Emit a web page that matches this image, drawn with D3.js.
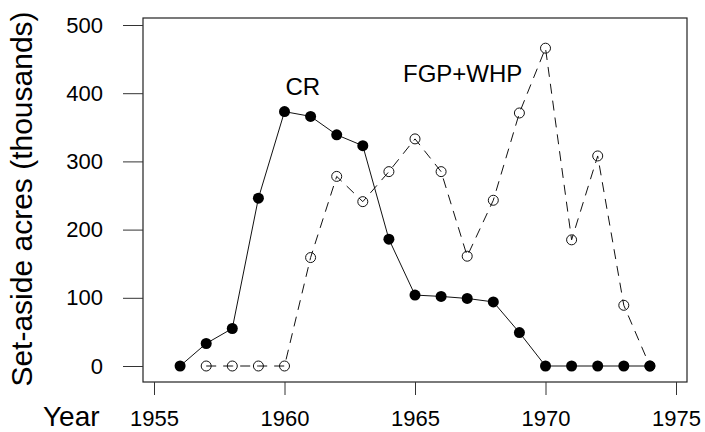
<!DOCTYPE html>
<html>
<head>
<meta charset="utf-8">
<script src="https://cdn.jsdelivr.net/npm/d3@7"></script>
<style>
  body { margin: 0; background: #fff; }
  svg text { font-family: "Liberation Sans", Arial, Helvetica, sans-serif; fill: #000; }
</style>
</head>
<body>
<div id="chart"></div>
<script>
// Width and height
var chart_width  = 705;
var chart_height = 432;

// Data
var years   = [1956, 1957, 1958, 1959, 1960, 1961, 1962, 1963, 1964, 1965,
               1966, 1967, 1968, 1969, 1970, 1971, 1972, 1973, 1974];
var cr      = [0, 33, 55, 246, 373, 366, 339, 323, 186, 104,
               102, 99, 94, 49, 0, 0, 0, 0, 0];
var fgp_years = [1957, 1958, 1959, 1960, 1961, 1962, 1963, 1964, 1965, 1966,
                 1967, 1968, 1969, 1970, 1971, 1972, 1973, 1974];
var fgp_whp = [0, 0, 0, 0, 159, 278, 241, 285, 333, 285,
               161, 243, 371, 466, 185, 308, 89, 0];
var x_ticks = [1955, 1960, 1965, 1970, 1975];
var y_ticks = [0, 100, 200, 300, 400, 500];

// plot box
var box = { left: 143, right: 687, top: 18, bottom: 382 };

var x = d3.scaleLinear().domain([1955, 1975]).range([154, 676]);
var y = d3.scaleLinear().domain([0, 500]).range([366, 25]);

var svg = d3.select("#chart")
    .append("svg")
    .attr("width", chart_width)
    .attr("height", chart_height);

svg.append("rect")
    .attr("x", box.left)
    .attr("y", box.top)
    .attr("width", box.right - box.left)
    .attr("height", box.bottom - box.top)
    .attr("fill", "none")
    .attr("stroke", "#222")
    .attr("stroke-width", 1.2);

// axes
var yAxis = svg.append("g")
    .attr("transform", "translate(" + box.left + ",0)")
    .call(d3.axisLeft(y).tickValues(y_ticks).tickSize(20).tickPadding(20));
var xAxis = svg.append("g")
    .attr("transform", "translate(0," + box.bottom + ")")
    .call(d3.axisBottom(x).tickValues(x_ticks).tickFormat(d3.format("d")).tickSize(13).tickPadding(15));

[xAxis, yAxis].forEach(function(g){
    g.select(".domain").remove();
    g.selectAll(".tick line").attr("stroke", "#333").attr("stroke-width", 1);
    g.selectAll(".tick text")
        .attr("fill", "#000")
        .style("font-size", "22px");
});

// axis titles
svg.append("text")
    .attr("transform", "translate(32," + 199 + ") rotate(-90)")
    .attr("text-anchor", "middle")
    .style("font-size", "30px")
    .text("Set-aside acres (thousands)");

svg.append("text")
    .attr("x", 43)
    .attr("y", 426)
    .style("font-size", "28px")
    .text("Year");

// FGP+WHP dashed line with open circles
var fgp_data = fgp_years.map(function(d, i){ return { year: d, val: fgp_whp[i] }; });
var cr_data  = years.map(function(d, i){ return { year: d, val: cr[i] }; });

var line = d3.line()
    .x(function(d){ return x(d.year); })
    .y(function(d){ return y(d.val); });

svg.append("path")
    .datum(fgp_data)
    .attr("d", line)
    .attr("fill", "none")
    .attr("stroke", "#111")
    .attr("stroke-width", 1)
    .attr("stroke-dasharray", "10,7");

svg.selectAll("circle.fgp")
    .data(fgp_data)
    .enter()
    .append("circle")
    .attr("class", "fgp")
    .attr("cx", function(d){ return x(d.year); })
    .attr("cy", function(d){ return y(d.val); })
    .attr("r", 5)
    .attr("fill", "none")
    .attr("stroke", "#111")
    .attr("stroke-width", 1);

// CR solid line with filled circles
svg.append("path")
    .datum(cr_data)
    .attr("d", line)
    .attr("fill", "none")
    .attr("stroke", "#111")
    .attr("stroke-width", 1);

svg.selectAll("circle.cr")
    .data(cr_data)
    .enter()
    .append("circle")
    .attr("class", "cr")
    .attr("cx", function(d){ return x(d.year); })
    .attr("cy", function(d){ return y(d.val); })
    .attr("r", 5.5)
    .attr("fill", "#000");

// series labels
svg.append("text")
    .attr("x", x(1960.7))
    .attr("y", y(397))
    .attr("text-anchor", "middle")
    .style("font-size", "24px")
    .text("CR");

svg.append("text")
    .attr("x", x(1964.54))
    .attr("y", y(416))
    .style("font-size", "24px")
    .text("FGP+WHP");
</script>
</body>
</html>
